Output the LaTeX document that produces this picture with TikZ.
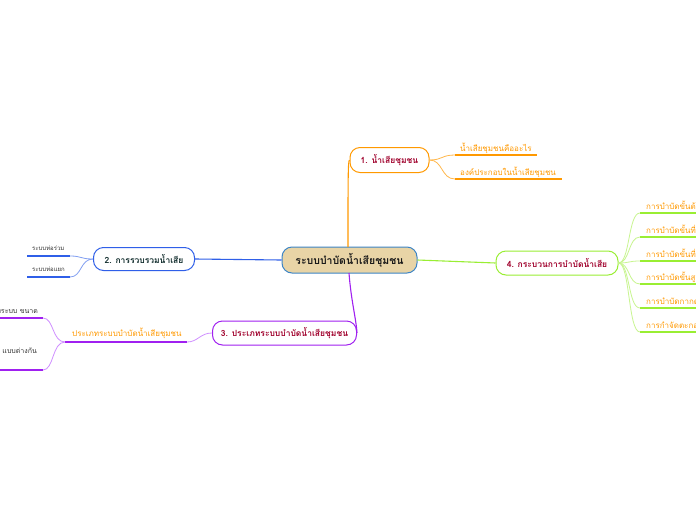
\documentclass[tikz,border=0pt]{standalone}
\usepackage{fontspec}
\newfontfamily\thai[Script=Thai]{Loma}
\definecolor{cOr}{HTML}{FF9900}
\definecolor{cBl}{HTML}{2F5FE8}
\definecolor{cPu}{HTML}{A020F0}
\definecolor{cPuL}{HTML}{D090FF}
\definecolor{cGr}{HTML}{99EE33}
\definecolor{cGrL}{HTML}{C8F590}
\definecolor{cTan}{HTML}{E8D4A6}
\definecolor{cCBd}{HTML}{3D85C6}
\definecolor{cRed}{HTML}{A0002C}
\definecolor{cDk}{HTML}{0E2A2A}
\definecolor{cGy}{HTML}{333333}
\tikzset{
  topic/.style={draw, line width=1pt, fill=white, rounded corners=10pt, inner sep=0pt, font=\thai\bfseries\fontsize{8.5}{10}\selectfont},
  central/.style={topic, fill=cTan, draw=cCBd, font=\thai\bfseries\fontsize{10.5}{12}\selectfont, text=black!90},
  sub/.style={anchor=base west, inner sep=0pt, font=\thai\fontsize{8}{9}\selectfont, text=cOr},
  tiny/.style={inner sep=0pt, font=\thai\fontsize{6}{7}\selectfont, text=cGy},
  uline/.style={line width=1.4pt},
  link/.style={line width=0.8pt},
}
\begin{document}
\begin{tikzpicture}[x=1pt,y=-1pt]
\clip (0,0) rectangle (696,520);
\fill[white] (0,0) rectangle (696,520);

% central
\node[central, minimum width=135pt, minimum height=26pt] (c) at (349.5,260) {ระบบบำบัดน้ำเสียชุมชน};

% main topics
\node[topic, draw=cOr, text=cRed, minimum width=79pt, minimum height=25pt] (n1) at (389.5,160) {1. น้ำเสียชุมชน};
\node[topic, draw=cBl, text=cDk, minimum width=101pt, minimum height=23pt] (n2) at (144,259) {2. การรวบรวมน้ำเสีย};
\node[topic, draw=cPu, text=cRed, minimum width=144pt, minimum height=24pt] (n3) at (284.5,333) {3. ประเภทระบบบำบัดน้ำเสียชุมชน};
\node[topic, draw=cGr, text=cRed, minimum width=122pt, minimum height=24pt] (n4) at (557,263) {4. กระบวนการบำบัดน้ำเสีย};

% center connectors
\coordinate (c1) at (348,247);
\coordinate (c3) at (349,273);
\draw[cOr, line width=1.1pt] (c1) .. controls (348,180) and (348,160) .. (n1.west);
\draw[cBl, line width=1.1pt] (c.west) -- (n2.east);
\draw[cPu, line width=1.1pt] (c3) .. controls (351,300) and (356,318) .. (n3.east);
\draw[cGr, line width=1.1pt] (c.east) -- (n4.west);

% branch 1 children
\coordinate (a1) at (455,155); \coordinate (a1e) at (537,155);
\coordinate (a2) at (455,179); \coordinate (a2e) at (562,179);
\draw[cOr!70, link] (n1.east) .. controls (443,160) and (441,155) .. (a1);
\draw[cOr!70, link] (n1.east) .. controls (443,160) and (441,179) .. (a2);
\draw[cOr, uline] (a1) -- (a1e);
\draw[cOr, uline] (a2) -- (a2e);
\node[sub] (t11) at (460,151.5) {น้ำเสียชุมชนคืออะไร};
\node[sub] (t12) at (460,175.5) {องค์ประกอบในน้ำเสียชุมชน};

% branch 2 children
\coordinate (b1) at (70,256); \coordinate (b1e) at (27,256);
\coordinate (b2) at (70,277); \coordinate (b2e) at (27,277);
\draw[cBl!60, link] (n2.west) .. controls (80,259) and (82,256) .. (b1);
\draw[cBl!60, link] (n2.west) .. controls (80,259) and (82,277) .. (b2);
\draw[cBl, uline] (b1) -- (b1e);
\draw[cBl, uline] (b2) -- (b2e);
\node[tiny, anchor=base west] (t21) at (32,250.5) {ระบบท่อร่วม};
\node[tiny, anchor=base west] (t22) at (32,271.5) {ระบบท่อแยก};

% branch 3 child
\coordinate (p1) at (187,342); \coordinate (p1e) at (65,342);
\draw[cPuL, link] (n3.west) .. controls (200,333) and (198,342) .. (p1);
\draw[cPu, uline] (p1) -- (p1e);
\node[sub] (t31) at (72,336) {ประเภทระบบบำบัดน้ำเสียชุมชน};
% grandchildren
\coordinate (q1) at (43,318); \coordinate (q1e) at (-5,318);
\coordinate (q2) at (43,370); \coordinate (q2e) at (-5,370);
\draw[cPuL, link] (p1e) .. controls (52,342) and (54,318) .. (q1);
\draw[cPuL, link] (p1e) .. controls (52,342) and (54,370) .. (q2);
\draw[cPu, uline] (q1) -- (q1e);
\draw[cPu, uline] (q2) -- (q2e);
\node[tiny, font=\thai\fontsize{7}{8}\selectfont, anchor=base east] (t32) at (38,313) {จำแนกตามประเภทระบบ ขนาด};
\node[tiny, font=\thai\fontsize{7}{8}\selectfont, anchor=base east] (t33) at (37,353) {ระบบบำบัดหลาย ๆ แบบ  แบบต่างกัน};

% branch 4 children
\foreach \i/\yy/\txt in {1/213/การบำบัดขั้นต้น, 2/237/การบำบัดขั้นที่สอง, 3/261/การบำบัดขั้นที่สาม, 4/284/การบำบัดขั้นสูง, 5/308/การบำบัดกากตะกอน, 6/332/การกำจัดตะกอน}{
  \coordinate (g\i) at (640,\yy);
  \coordinate (g\i e) at (700,\yy);
  \draw[cGrL, link] (n4.east) .. controls (630,263) and (628,\yy) .. (g\i);
  \draw[cGr, uline] (g\i) -- (g\i e);
  \node[sub] (t4\i) at (646,\yy-3.5) {\txt};
}
\end{tikzpicture}
\end{document}
